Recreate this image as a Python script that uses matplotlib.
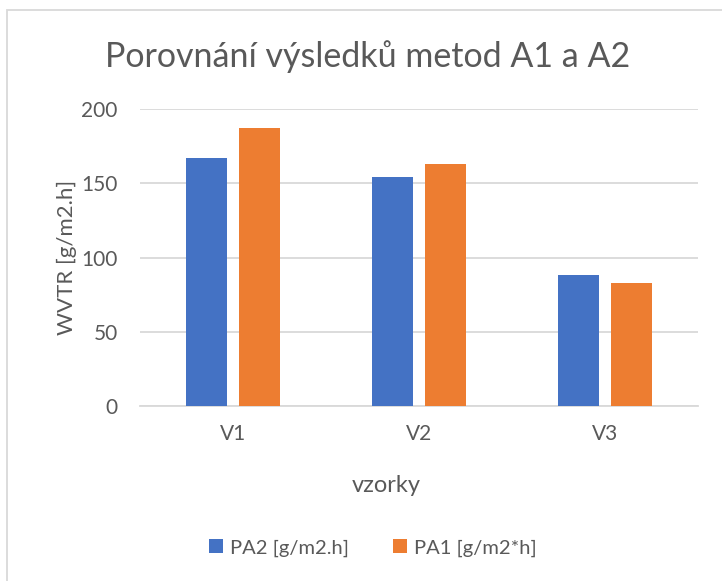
import matplotlib
matplotlib.use("Agg")
import matplotlib.pyplot as plt
from matplotlib.patches import Rectangle
import numpy as np

categories = ["V1", "V2", "V3"]
pa2_values = [167, 154, 88]
pa1_values = [187, 163, 83]
series_labels = ["PA2 [g/m2.h]", "PA1 [g/m2*h]"]
yticks = [0, 50, 100, 150, 200]

TEXT = "#595959"
GRID = "#d9d9d9"
BLUE = "#4472C4"
ORANGE = "#ED7D31"

plt.rcParams["font.family"] = ["Lato", "DejaVu Sans"]

fig = plt.figure(figsize=(7.22, 5.81), dpi=100)
W, H = 722, 581

# chart border (clipped at right/bottom like the reference)
fig.patches.append(Rectangle((7 / W, -0.05), 1.2, 1 - 10 / H + 0.05,
                             transform=fig.transFigure, fill=False,
                             edgecolor=GRID, linewidth=1.3, zorder=0))

ax = fig.add_axes([140 / W, 1 - 406 / H, (698 - 140) / W, (406 - 109) / H])
x = np.arange(len(categories))
bw = 0.223
off = 0.1435
ax.bar(x - off, pa2_values, bw, color=BLUE, label=series_labels[0], zorder=3)
ax.bar(x + off, pa1_values, bw, color=ORANGE, label=series_labels[1], zorder=3)

ax.set_xlim(-0.5, 2.5)
ax.set_ylim(0, 200)
ax.set_yticks(yticks)
ax.set_xticks(x)
ax.set_xticklabels(categories)
ax.yaxis.grid(True, color=GRID, linewidth=1.3, zorder=0)
ax.set_axisbelow(True)
for s in ["top", "right", "left"]:
    ax.spines[s].set_visible(False)
ax.spines["bottom"].set_color(GRID)
ax.spines["bottom"].set_linewidth(1.3)
ax.tick_params(axis="both", length=0, colors=TEXT, labelsize=15)
ax.tick_params(axis="y", pad=16)
ax.tick_params(axis="x", pad=13)

ax.set_ylabel("WVTR [g/m2.h]", fontsize=16, color=TEXT, labelpad=3)
ax.set_xlabel("vzorky", fontsize=17, color=TEXT)
ax.xaxis.set_label_coords((386 - 140) / 558, -(485 - 406) / 297, transform=ax.transAxes)
ax.xaxis.label.set_va("center")

fig.text(368 / W, 1 - 57 / H, "Porovnání výsledků metod A1 a A2",
         ha="center", va="center", fontsize=24.5, color=TEXT)

leg = fig.legend(loc="center", bbox_to_anchor=(373 / W, 1 - 548 / H), ncol=2,
                 frameon=False, fontsize=14.5, handlelength=0.7, handleheight=0.7,
                 handletextpad=0.35, columnspacing=2.2)
for t in leg.get_texts():
    t.set_color(TEXT)

fig.savefig("out.png", dpi=100, facecolor="white")
